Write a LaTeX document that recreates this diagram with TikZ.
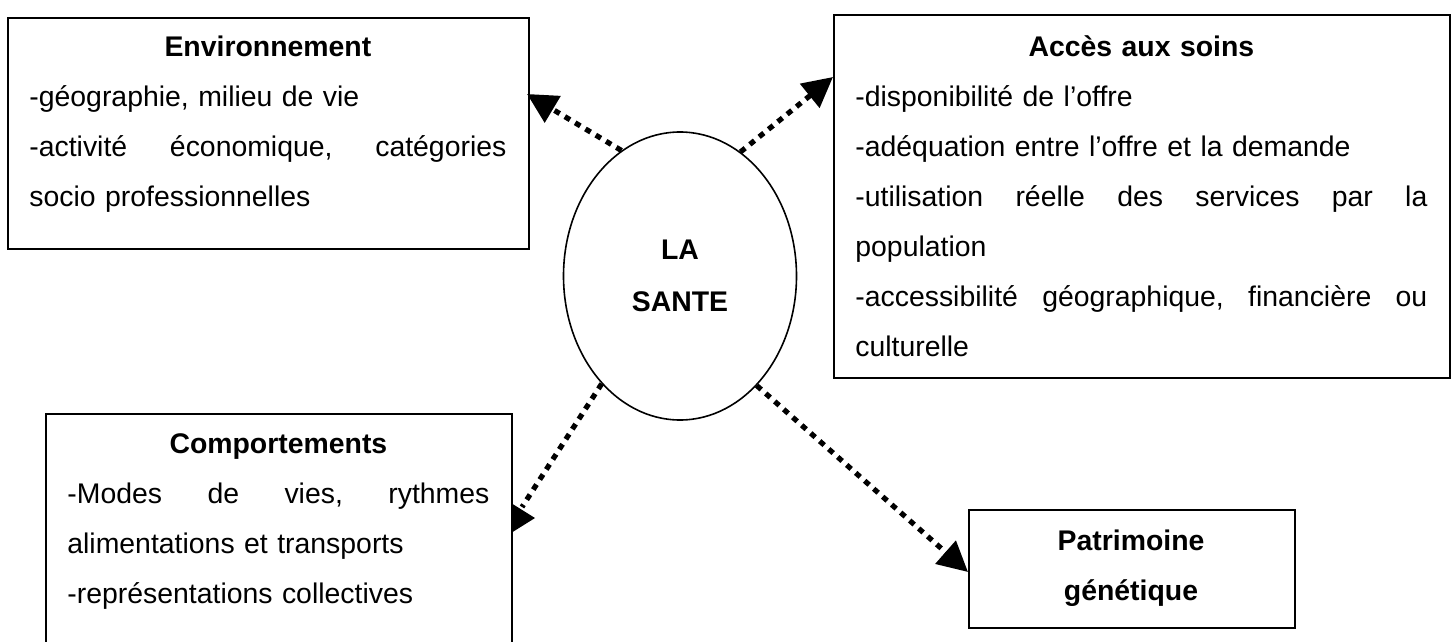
\documentclass[tikz,border=0pt]{standalone}
\usepackage{fontspec}
\setmainfont{Liberation Sans}
\usetikzlibrary{arrows.meta,shapes.geometric}
\newcommand{\jline}[2]{\leavevmode\hbox to #1{#2}}
\begin{document}
\begin{tikzpicture}[x=0.5pt,y=-0.5pt,
  boxframe/.style={draw, line width=0.8pt, inner sep=0pt, anchor=north west},
  txt/.style={anchor=base west, inner sep=0pt, align=left, font=\fontsize{14.2pt}{25pt}\selectfont},
  dotline/.style={line width=2.6pt, dash pattern=on 3pt off 3pt},
  link/.style={dotline, -{Triangle[length=15pt,width=15pt]}},
]
\useasboundingbox (0,0) rectangle (1456,642);

% boxes
\node[boxframe, minimum width=260.5pt, minimum height=115.5pt] (envbox) at (7,17) {};
\node[boxframe, minimum width=308pt, minimum height=181.5pt] (accbox) at (833,14) {};
\node[boxframe, minimum width=233pt, minimum height=115pt] (compbox) at (45,413) {};
\node[boxframe, minimum width=163pt, minimum height=59pt] (patbox) at (968,509) {};

% texts
\node[txt, text width=238.5pt] (envtxt) at (29,57)
 {\makebox[238.5pt]{\bfseries Environnement}\\
  -géographie, milieu de vie\\
  \jline{238.5pt}{-activité\hfill économique,\hfill catégories}\\
  socio professionnelles};

\node[txt, text width=286pt] (acctxt) at (855,57)
 {\makebox[286pt]{\bfseries Accès aux soins}\\
  -disponibilité de l’offre\\
  -adéquation entre l’offre et la demande\\
  \jline{286pt}{-utilisation\hfill réelle\hfill des\hfill services\hfill par\hfill la}\\
  population\\
  \jline{286pt}{-accessibilité\hfill géographique,\hfill financière\hfill ou}\\
  culturelle};

\node[txt, text width=211pt] (comptxt) at (67,453)
 {\makebox[211pt]{\bfseries Comportements}\\
  \jline{211pt}{-Modes\hfill de\hfill vies,\hfill rythmes}\\
  alimentations et transports\\
  -représentations collectives};

\node[txt, anchor=base, align=center, font=\fontsize{14.2pt}{25pt}\selectfont\bfseries] (pattxt) at (1131,600)
 {Patrimoine\\génétique};

% centre
\node[draw, ellipse, line width=0.8pt, inner sep=0pt, minimum width=116.5pt, minimum height=144pt,
      align=center, font=\fontsize{14.2pt}{26pt}\selectfont\bfseries] (sante) at (680,276) {LA\\SANTE};

% connectors
\coordinate (envtip) at (527,94);
\coordinate (acctip) at (833,77);
\coordinate (comptip) at (522,507);
\coordinate (pattip) at (968,572);

\draw[link] (sante.115.5) -- (envtip);
\draw[link] (sante.64.5) -- (acctip);
\draw[dotline] (sante.234.3) -- (comptip);
\fill (511,503) -- (511,533) -- (535,518) -- cycle;
\draw[link] (sante.305.7) -- (pattip);
\end{tikzpicture}
\end{document}
